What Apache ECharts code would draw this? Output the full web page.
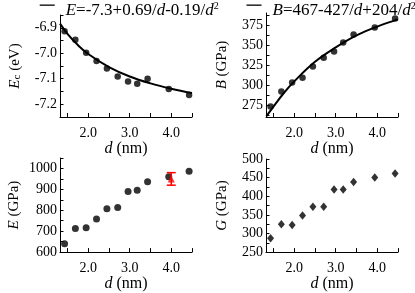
<!DOCTYPE html>
<html>
<head>
<meta charset="utf-8">
<script src="https://cdn.jsdelivr.net/npm/echarts@6/dist/echarts.min.js"></script>
<style>
html,body{margin:0;padding:0;background:#fff;}
#chart{width:415px;height:293px;}
</style>
</head>
<body>
<div id="chart"></div>
<script>
// ---- data ----
const dVals = [1.43, 1.69, 1.95, 2.20, 2.45, 2.71, 2.96, 3.18, 3.43, 3.94, 4.43];
const ecVals = [-6.914, -6.947, -6.998, -7.030, -7.060, -7.091, -7.111, -7.120, -7.100, -7.140, -7.164];
const bVals = [273, 292, 303, 309, 323, 334, 342, 353, 363, 372, 383];
const eVals = [640, 713, 716, 758, 807, 813, 890, 896, 937, 960, 987];
const gVals = [287, 325, 323, 348, 372, 372, 418, 418, 438, 450, 461];

// fit curves
const fitEcD = [1.32, 1.5, 1.75, 2.0, 2.5, 3.0, 3.5, 4.0, 4.5];
const fitEcV = [-6.884, -6.924, -6.968, -7.003, -7.054, -7.091, -7.118, -7.139, -7.156];
const fitBD = [1.33, 1.5, 1.75, 2.0, 2.5, 3.0, 3.5, 4.0, 4.5];
const fitBV = [261, 273, 290, 304.5, 329, 347, 362, 373, 382];

// experimental point with error bar (E panel)
const expD = [4.0];
const expE = [950];
const expLo = [920];
const expHi = [980];

// axis ticks / labels
const xLabelVals = [2, 3, 4];
const xTickVals = [1.5, 2, 2.5, 3, 3.5, 4, 4.5];
const ecLabelVals = [-7.2, -7.1, -7.0, -6.9];
const ecTickVals = [-7.2, -7.15, -7.1, -7.05, -7.0, -6.95, -6.9, -6.85];
const bLabelVals = [275, 300, 325, 350, 375];
const bTickVals = [262.5, 275, 287.5, 300, 312.5, 325, 337.5, 350, 362.5, 375, 387.5];
const eLabelVals = [600, 700, 800, 900, 1000];
const eTickVals = [650, 700, 750, 800, 850, 900, 950, 1000, 1050];
const gLabelVals = [250, 300, 350, 400, 450, 500];
const gTickVals = [275, 300, 325, 350, 375, 400, 425, 450, 475, 500];

const fitEcName = 'E=-7.3+0.69/d-0.19/d^2';
const fitBName = 'B=467-427/d+204/d^2';

// ---- build ----
const FONT = '"Liberation Serif", "DejaVu Serif", serif';
const zip = (a, b) => a.map((v, i) => [v, b[i]]);

const grids = [
  {left: 60, top: 15, width: 132, height: 102},
  {left: 266, top: 13, width: 132, height: 104},
  {left: 60, top: 158, width: 132, height: 103},
  {left: 266, top: 159, width: 132, height: 102}
];

const numRich = {n: {fontFamily: FONT, fontSize: 14, color: '#000'}};

function xAxis(gi) {
  return {
    type: 'value', gridIndex: gi, min: 1.32, max: 4.5,
    name: '{i|d}{t| (nm)}', nameLocation: 'middle', nameGap: 19,
    nameTextStyle: {fontFamily: FONT, rich: {
      i: {fontFamily: FONT, fontStyle: 'italic', fontSize: 16, color: '#000'},
      t: {fontFamily: FONT, fontSize: 16, color: '#000'}
    }},
    axisLine: {onZero: false, lineStyle: {color: '#000', width: 1}},
    axisTick: {inside: true, length: 4, customValues: xTickVals, lineStyle: {color: '#000'}},
    axisLabel: {customValues: xLabelVals, margin: 9, fontFamily: FONT, fontSize: 14, color: '#000',
      rich: numRich, formatter: v => '{n|' + Number(v).toFixed(1) + '}'},
    splitLine: {show: false}
  };
}

function yAxis(gi, min, max, labels, ticks, name, gap, fmt) {
  return {
    type: 'value', gridIndex: gi, min: min, max: max,
    name: name, nameLocation: 'middle', nameGap: gap,
    nameTextStyle: {fontFamily: FONT, rich: {
      i: {fontFamily: FONT, fontStyle: 'italic', fontSize: 15, color: '#000'},
      t: {fontFamily: FONT, fontSize: 15, color: '#000'},
      sub: {fontFamily: FONT, fontSize: 11, color: '#000', verticalAlign: 'bottom'}
    }},
    axisLine: {onZero: false, lineStyle: {color: '#000', width: 1}},
    axisTick: {inside: true, length: 3.5, customValues: ticks, lineStyle: {color: '#000'}},
    axisLabel: {customValues: labels, margin: 3, fontFamily: FONT, fontSize: 14, color: '#000',
      rich: numRich, formatter: v => '{n|' + fmt(v) + '}'},
    splitLine: {show: false}
  };
}

const legendIcon = 'path://M0,0L15,0L15,1.3L0,1.3ZM21,13L21,13';
const legendRich = {
  i: {fontFamily: FONT, fontStyle: 'italic', fontSize: 17, lineHeight: 20, color: '#000'},
  t: {fontFamily: FONT, fontSize: 17, lineHeight: 20, color: '#000'},
  s: {fontFamily: FONT, fontSize: 10, lineHeight: 10, color: '#000', verticalAlign: 'top'}
};

function legend(name, left, fmt) {
  return {
    data: [name], left: left, top: 1, padding: 0, itemWidth: 21, itemHeight: 13,
    icon: legendIcon, itemStyle: {borderWidth: 0, color: '#000'},
    selectedMode: false,
    textStyle: {fontFamily: FONT, rich: legendRich},
    formatter: () => fmt
  };
}

const option = {
  animation: false,
  backgroundColor: '#fff',
  textStyle: {fontFamily: FONT},
  grid: grids,
  legend: [
    legend(fitEcName, 39.7, '{i|E}{t|=-7.3+0.69/}{i|d}{t|-0.19/}{i|d}{s|2}'),
    legend(fitBName, 246.5, '{i|B}{t|=467-427/}{i|d}{t|+204/}{i|d}{s|2}')
  ],
  xAxis: [xAxis(0), xAxis(1), xAxis(2), xAxis(3)],
  yAxis: [
    yAxis(0, -7.25, -6.85, ecLabelVals, ecTickVals, '{i|E}{sub|c}{t| (eV)}', 37, v => Number(v).toFixed(1)),
    yAxis(1, 260, 390, bLabelVals, bTickVals, '{i|B}{t| (GPa)}', 36, v => String(v)),
    yAxis(2, 600, 1050, eLabelVals, eTickVals, '{i|E}{t| (GPa)}', 38, v => String(v)),
    yAxis(3, 250, 500, gLabelVals, gTickVals, '{i|G}{t| (GPa)}', 36, v => String(v))
  ],
  series: [
    {name: fitEcName, type: 'line', xAxisIndex: 0, yAxisIndex: 0, data: zip(fitEcD, fitEcV),
      smooth: 0.4, symbol: 'none', lineStyle: {color: '#000', width: 2}, itemStyle: {color: '#000'}, z: 3},
    {name: 'Ec', type: 'scatter', xAxisIndex: 0, yAxisIndex: 0, data: zip(dVals, ecVals),
      symbol: 'circle', symbolSize: 6.5, itemStyle: {color: '#000'}, z: 4},
    {name: fitBName, type: 'line', xAxisIndex: 1, yAxisIndex: 1, data: zip(fitBD, fitBV),
      smooth: 0.4, symbol: 'none', lineStyle: {color: '#000', width: 2}, itemStyle: {color: '#000'}, z: 3, clip: false},
    {name: 'B', type: 'scatter', xAxisIndex: 1, yAxisIndex: 1, data: zip(dVals, bVals),
      symbol: 'circle', symbolSize: 6.5, itemStyle: {color: '#000'}, z: 4},
    {name: 'E', type: 'scatter', xAxisIndex: 2, yAxisIndex: 2, data: zip(dVals, eVals),
      symbol: 'circle', symbolSize: 7, itemStyle: {color: '#000'}, z: 4},
    {name: 'Eexp-err', type: 'custom', xAxisIndex: 2, yAxisIndex: 2,
      data: expD.map((d, i) => [d, expE[i], expLo[i], expHi[i]]),
      encode: {x: 0, y: 1},
      renderItem: function (params, api) {
        const x = api.value(0);
        const pLo = api.coord([x, api.value(2)]);
        const pHi = api.coord([x, api.value(3)]);
        const hw = 4.5;
        const st = {stroke: '#f00', lineWidth: 1.5};
        return {type: 'group', children: [
          {type: 'line', shape: {x1: pLo[0], y1: pLo[1], x2: pHi[0], y2: pHi[1]}, style: st},
          {type: 'line', shape: {x1: pLo[0] - hw, y1: pLo[1], x2: pLo[0] + hw, y2: pLo[1]}, style: st},
          {type: 'line', shape: {x1: pHi[0] - hw, y1: pHi[1], x2: pHi[0] + hw, y2: pHi[1]}, style: st}
        ]};
      }, z: 5},
    {name: 'Eexp', type: 'scatter', xAxisIndex: 2, yAxisIndex: 2, data: zip(expD, expE),
      symbol: 'triangle', symbolSize: 7, itemStyle: {color: '#f00'}, z: 6},
    {name: 'G', type: 'scatter', xAxisIndex: 3, yAxisIndex: 3, data: zip(dVals, gVals),
      symbol: 'diamond', symbolSize: [7, 8.5], itemStyle: {color: '#000'}, z: 4}
  ]
};

const chart = echarts.init(document.getElementById('chart'), null, {renderer: 'canvas'});
chart.setOption(option);
</script>
</body>
</html>
